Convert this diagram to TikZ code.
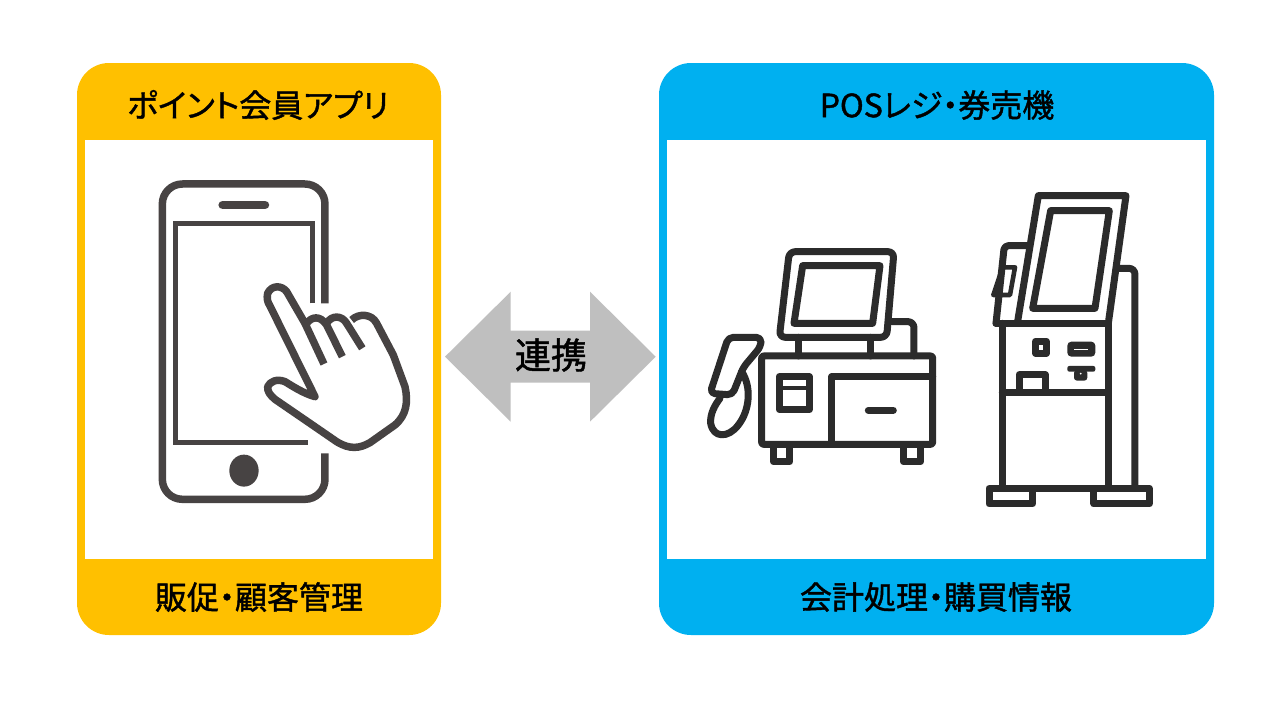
\documentclass[tikz,border=0pt]{standalone}
\usepackage{fontspec}
\newfontfamily\cjk[RawFeature=+palt,FakeBold=1.3]{Noto Sans CJK JP}
\definecolor{amberc}{HTML}{FFC000}
\definecolor{bluec}{HTML}{00B0F0}
\definecolor{arrowc}{HTML}{BFBFBF}
\definecolor{phonec}{HTML}{474343}
\definecolor{machc}{HTML}{2B2B2B}
\tikzset{
  lbl/.style={font=\cjk\fontsize{32}{36}\selectfont,text=black,inner sep=0pt},
  phonez/.style={shift={(130,160)},x=0.3333pt,y=-0.3333pt,draw=phonec,line width=7.5pt,line join=round},
  posz/.style={shift={(690,230)},x=0.3333pt,y=-0.3333pt},
  kioskz/.style={shift={(970,180)},x=0.3333pt,y=-0.3333pt},
  mach/.style={draw=machc,line width=7pt,line join=round,line cap=round},
}
\begin{document}
\begin{tikzpicture}[x=1pt,y=-1pt]
\useasboundingbox (0,0) rectangle (1280,720);
\fill[white] (0,0) rectangle (1280,720);
% cards
\fill[amberc,rounded corners=32pt] (77,63) rectangle (441,635);
\fill[white] (85,140) rectangle (433,559);
\fill[bluec,rounded corners=32pt] (659,63) rectangle (1214,635);
\fill[white] (667,140) rectangle (1206,559);
\node[lbl] (t1) at (258,105) {ポイント会員アプリ};
\node[lbl] (t2) at (259,597) {販促・顧客管理};
\node[lbl] (t3) at (937,105) {POSレジ・券売機};
\node[lbl] (t4) at (936,597) {会計処理・購買情報};
% arrow
\fill[arrowc] (445,356.7) -- (510.7,291.7) -- (510.7,330.7) -- (590,330.7) -- (590,291.7) -- (655.7,356.7) -- (590,421.7) -- (590,382.7) -- (510.7,382.7) -- (510.7,421.7) -- cycle;
\node[lbl,font=\cjk\fontsize{36}{40}\selectfont] (t5) at (551,355) {連携};
% phone
\begin{scope}[phonez]
\draw[rounded corners=20pt] (585,430) -- (585,72) -- (97,72) -- (97,1018) -- (585,1018) -- (585,880);
\draw[line width=8.5pt,line cap=round] (278,135) -- (405,135);
\draw[line width=4.6pt,line join=miter] (547,430) -- (547,190) -- (136,190) -- (136,848) -- (535,848);
\fill[phonec] (342,932) ellipse [x radius=44,y radius=48];
\draw[line cap=butt] (582,612) -- (525,490) -- (470,395)
  .. controls (455,375) and (425,375) .. (413,400)
  .. controls (410,415) and (412,425) .. (420,438)
  -- (555,710)
  .. controls (520,700) and (490,680) .. (465,665)
  .. controls (440,655) and (420,665) .. (413,680)
  .. controls (412,695) and (420,705) .. (435,718)
  -- (540,790) -- (620,845)
  .. controls (660,870) and (690,865) .. (720,848)
  -- (795,795)
  .. controls (830,765) and (835,725) .. (825,680)
  -- (790,585) -- (740,490)
  .. controls (725,460) and (685,460) .. (665,480);
\draw[line cap=butt] (530,490) .. controls (545,470) and (570,465) .. (590,495) -- (637,590);
\draw[line cap=butt] (590,490) .. controls (605,465) and (635,465) .. (650,490) -- (697,565);
\end{scope}
% POS
\begin{scope}[posz,mach]
\draw[rounded corners=6pt] (298,65) -- (612,65) -- (590,322) -- (268,322) -- cycle;
\draw (338,107) -- (570,107) -- (548,280) -- (312,280) -- cycle;
\draw (325,322) -- (325,378);
\draw (543,322) -- (543,378);
\draw[rounded corners=6pt] (605,275) -- (672,275) -- (672,378);
\draw[rounded corners=2pt] (215,378) rectangle (728,643);
\draw (425,643) -- (425,440) -- (728,440);
\draw (535,541) -- (610,541);
\draw (268,440) rectangle (358,539);
\draw[line width=4pt,line cap=butt] (268,474) -- (358,474);
\draw (250,652) -- (250,695) -- (300,695) -- (300,652);
\draw (640,652) -- (640,695) -- (692,695) -- (692,652);
\draw[rounded corners=5pt] (115,322) -- (214,322) -- (212,350) -- (160,412) -- (127,495) -- (60,490) -- cycle;
\draw (155,425) .. controls (185,470) and (180,540) .. (145,585)
  .. controls (115,625) and (70,625) .. (62,580)
  .. controls (60,550) and (75,525) .. (90,505);
\end{scope}
% kiosk
\begin{scope}[kioskz,mach]
\draw (142,430) -- (205,47) -- (468,47) -- (415,430);
\draw (78,430) -- (415,430);
\draw (242,92) -- (418,92) -- (375,385) -- (188,385) -- cycle;
\draw[rounded corners=4pt] (170,197) -- (103,197) -- (78,430);
\draw[line width=4.6pt] (98,262) -- (135,262) -- (120,345) -- (70,345) -- cycle;
\draw[rounded corners=6pt] (445,265) -- (495,265) -- (495,925);
\draw (97,430) -- (97,925);
\draw (415,430) -- (415,925);
\draw (97,638) -- (415,638);
\draw (57,925) rectangle (188,972);
\draw (372,925) rectangle (538,972);
\draw (188,925) -- (372,925);
\draw (197,484) rectangle (229,520);
\fill[machc,rounded corners=4pt] (292,485) rectangle (376,530);
\draw[white,line width=0.8pt,line cap=butt] (312,508) -- (355,508);
\fill[machc,rounded corners=2pt] (292,558) rectangle (376,575);
\fill[machc,rounded corners=3pt] (312,570) rectangle (352,602);
\fill[white] (332,581) circle [radius=3];
\draw (147,628) -- (147,584) -- (226,584) -- (226,628);
\end{scope}
\end{tikzpicture}
\end{document}
